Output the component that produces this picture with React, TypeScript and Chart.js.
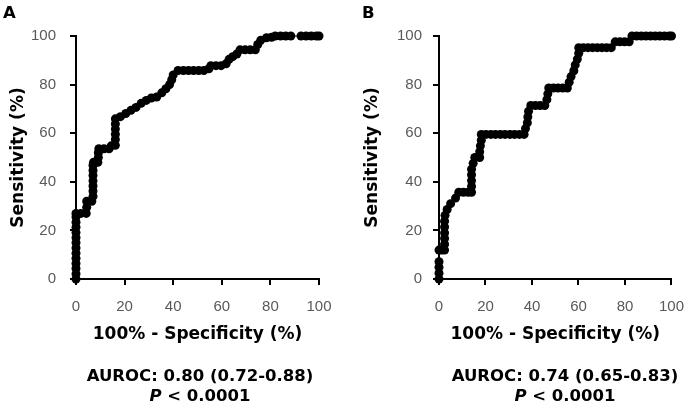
import React, { useEffect, useRef } from "react";
import { Chart, registerables } from "chart.js";

Chart.register(...registerables);

// ---- data ----
const tickValues = [0, 20, 40, 60, 80, 100];

const fprA = [0, 0, 0, 0, 0, 0, 0, 0, 0, 0, 0, 0, 0, 0, 2, 4.2, 4.4, 4.4, 6.5, 7, 7, 7, 7, 7, 7, 7, 7.2, 9, 9.2, 9.2, 9.4, 11.5, 13.6, 14.5, 16.2, 16.2, 16.2, 16.2, 16.2, 16.2, 18.3, 20.5, 22.6, 24.7, 26.8, 28.9, 31, 33.2, 35.3, 37, 38.5, 39.4, 40, 42, 44.2, 46.3, 48.4, 50.5, 52.6, 54.7, 55.5, 57.6, 59.7, 61.8, 63, 64.5, 66.2, 67.5, 69.6, 71.7, 73.8, 74.8, 76, 78.4, 80.5, 82, 84.2, 86.3, 88.4, 92.6, 94.7, 96.8, 98.9, 100];
const tprA = [0, 2.1, 4.3, 6.4, 8.5, 10.6, 12.8, 14.9, 17, 19.1, 21.3, 23.4, 25.5, 27, 27, 27, 29.5, 32, 32, 34, 36.2, 38.3, 40.4, 42.6, 44.7, 46.8, 48, 48, 50, 52, 53.6, 53.6, 53.6, 54.8, 55, 57.4, 59.6, 61.7, 63.8, 65.9, 66.8, 68.1, 69.4, 70.6, 72.3, 73.5, 74.5, 74.9, 76.6, 78.3, 80, 82, 84, 85.8, 85.8, 85.8, 85.8, 85.8, 85.8, 86.5, 87.8, 87.8, 87.8, 88.6, 90.4, 91.5, 92.6, 94.3, 94.3, 94.3, 94.3, 96.5, 98.2, 99.3, 99.5, 100, 100, 100, 100, 100, 100, 100, 100, 100];

const fprB = [0, 0, 0, 0, 0, 1.2, 2.4, 2.4, 2.4, 2.4, 2.4, 2.4, 2.6, 3.5, 5, 7.1, 8.5, 10.5, 12.5, 14, 14, 14, 14, 14, 14.7, 15.4, 17.5, 17.5, 17.8, 18.2, 18.2, 20.2, 22.3, 24.3, 26.4, 28.4, 30.5, 32.5, 34.6, 36.6, 37.2, 38, 38.2, 38.5, 39.5, 41.5, 43.5, 45.5, 46.4, 46.8, 47.2, 49.2, 51.2, 53.2, 55.2, 56, 56.8, 58, 58.6, 59.5, 60.1, 60.1, 62.1, 64.1, 66.1, 68.1, 70.1, 72.1, 74.1, 75.8, 77.8, 79.8, 81.8, 83, 85, 87, 89, 91, 93, 95, 97, 99, 100];
const tprB = [0, 2.4, 4.8, 7.1, 11.9, 11.9, 11.9, 14.3, 16.7, 19, 21.4, 23.8, 26.2, 28.6, 31, 33.3, 35.7, 35.7, 35.7, 35.7, 38.1, 40.5, 42.9, 45.2, 47.6, 50, 50, 52.4, 54.8, 57.1, 59.5, 59.5, 59.5, 59.5, 59.5, 59.5, 59.5, 59.5, 59.5, 59.5, 61.9, 64.3, 66.7, 69, 71.4, 71.4, 71.4, 71.4, 73.8, 76.2, 78.6, 78.6, 78.6, 78.6, 78.6, 81, 83.3, 85.7, 88.1, 90.5, 92.9, 95.2, 95.2, 95.2, 95.2, 95.2, 95.2, 95.2, 95.2, 97.6, 97.6, 97.6, 97.6, 100, 100, 100, 100, 100, 100, 100, 100, 100, 100];

const panelLetters = ["A", "B"];
const xTitle = "100% - Specificity (%)";
const yTitle = "Sensitivity (%)";
const aurocTexts = ["AUROC: 0.80 (0.72-0.88)", "AUROC: 0.74 (0.65-0.83)"];
const pValueText = "< 0.0001";

const BOLD = "'DejaVu Sans', sans-serif";
const TICK_FONT = { family: "'Liberation Sans', Arial, sans-serif", size: 15 };
const TICK_COLOR = "#595959";

type PanelProps = {
  fpr: number[];
  tpr: number[];
  width: number;
  yWidth: number;
  padRight: number;
  tickPadY: number;
  yTitlePad: number;
};

function RocPanel({ fpr, tpr, width, yWidth, padRight, tickPadY, yTitlePad }: PanelProps) {
  const ref = useRef<HTMLCanvasElement | null>(null);
  useEffect(() => {
    if (!ref.current) return;
    const pts = fpr.map((x, i) => ({ x, y: tpr[i] }));
    const axisCommon = {
      type: "linear" as const,
      min: 0,
      max: 100,
      afterBuildTicks: (s: any) => {
        s.ticks = tickValues.map((v) => ({ value: v }));
      },
      grid: {
        display: true,
        drawOnChartArea: false,
        drawTicks: true,
        tickLength: 6,
        color: "#000",
        lineWidth: 2,
      },
      border: { display: true, color: "#000", width: 2 },
    };
    const chart = new Chart(ref.current, {
      type: "scatter",
      data: {
        datasets: [
          {
            data: pts,
            showLine: true,
            borderColor: "#000",
            borderWidth: 1,
            pointRadius: 4.5,
            pointHoverRadius: 4.5,
            pointBackgroundColor: "#000",
            pointBorderWidth: 0,
            clip: false,
          } as any,
        ],
      },
      options: {
        animation: false,
        responsive: false,
        devicePixelRatio: 1,
        events: [],
        layout: { padding: { left: 0, right: padRight, top: 36, bottom: 0 } },
        plugins: { legend: { display: false }, tooltip: { enabled: false } },
        scales: {
          x: {
            ...axisCommon,
            position: "bottom",
            ticks: { color: TICK_COLOR, font: TICK_FONT, padding: 13, maxRotation: 0, autoSkip: false },
            title: {
              display: true,
              text: xTitle,
              color: "#000",
              font: { family: BOLD, weight: "bold", size: 17 },
              padding: { top: 0, bottom: 61 },
            },
            afterFit: (s: any) => {
              s.height = 127;
            },
          },
          y: {
            ...axisCommon,
            position: "left",
            ticks: { color: TICK_COLOR, font: TICK_FONT, padding: tickPadY, autoSkip: false },
            title: {
              display: true,
              text: yTitle,
              color: "#000",
              font: { family: BOLD, weight: "bold", size: 17 },
              padding: { top: yTitlePad, bottom: 0 },
            },
            afterFit: (s: any) => {
              s.width = yWidth;
            },
          },
        } as any,
      },
    });
    return () => chart.destroy();
  }, []);
  return <canvas ref={ref} width={width} height={406} style={{ width, height: 406, display: "block" }} />;
}

const letterStyle: React.CSSProperties = {
  position: "absolute",
  top: 5,
  fontFamily: BOLD,
  fontWeight: "bold",
  fontSize: 16.5,
  lineHeight: "16.5px",
  color: "#000",
};

const statStyle: React.CSSProperties = {
  position: "absolute",
  top: 366,
  width: 300,
  textAlign: "center",
  fontFamily: BOLD,
  fontWeight: "bold",
  fontSize: 16.5,
  lineHeight: "20px",
  color: "#000",
  whiteSpace: "nowrap",
};

export default function App() {
  return (
    <div style={{ position: "absolute", left: 0, top: 0, width: 697, height: 406, background: "#fff", overflow: "hidden" }}>
      <div style={{ position: "absolute", left: 0, top: 0 }}>
        <RocPanel fpr={fprA} tpr={tprA} width={348} yWidth={76} padRight={29} tickPadY={14} yTitlePad={8} />
      </div>
      <div style={{ position: "absolute", left: 348, top: 0 }}>
        <RocPanel fpr={fprB} tpr={tprB} width={349} yWidth={91} padRight={15} tickPadY={11} yTitlePad={14} />
      </div>
      <div style={{ ...letterStyle, left: 3 }}>{panelLetters[0]}</div>
      <div style={{ ...letterStyle, left: 362 }}>{panelLetters[1]}</div>
      <div style={{ ...statStyle, left: 200 - 150 }}>
        <div>{aurocTexts[0]}</div>
        <div>
          <i>P</i> {pValueText}
        </div>
      </div>
      <div style={{ ...statStyle, left: 565 - 150 }}>
        <div>{aurocTexts[1]}</div>
        <div>
          <i>P</i> {pValueText}
        </div>
      </div>
    </div>
  );
}
